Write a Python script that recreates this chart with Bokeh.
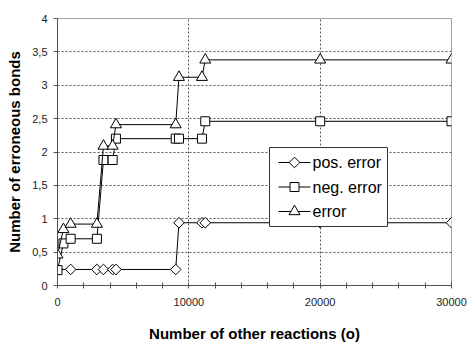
from bokeh.plotting import figure
from bokeh.models import FixedTicker, CustomJSTickFormatter, Range1d
from bokeh.core.properties import value
from bokeh.embed import file_html
from bokeh.resources import INLINE

# ---- data ----
x_pos = [0, 1000, 3000, 3500, 4200, 4450, 9000, 9250, 11000, 11250, 20000, 30000]
pos_error = [0.24, 0.24, 0.24, 0.24, 0.24, 0.24, 0.24, 0.94, 0.94, 0.94, 0.94, 0.94]
x_all = [0, 450, 1000, 3000, 3500, 4200, 4450, 9000, 9250, 11000, 11250, 20000, 30000]
neg_error = [0.23, 0.63, 0.70, 0.70, 1.88, 1.88, 2.20, 2.20, 2.20, 2.20, 2.46, 2.46, 2.46]
error = [0.46, 0.84, 0.92, 0.92, 2.09, 2.09, 2.41, 2.41, 3.12, 3.12, 3.38, 3.38, 3.38]
labels = ["pos. error", "neg. error", "error"]

x_ticks = [0, 10000, 20000, 30000]
x_minor = [2000, 4000, 6000, 8000, 12000, 14000, 16000, 18000, 22000, 24000, 26000, 28000]
x_grid = [10000, 20000]
y_ticks = [0, 0.5, 1, 1.5, 2, 2.5, 3, 3.5, 4]
y_grid = [0.5, 1, 1.5, 2, 2.5, 3, 3.5]

FONT = "Liberation Sans"
W, H = 468, 345
BL, BR, BT, BB = 57, 17, 18, 60
FW, FH = W - BL - BR, H - BT - BB

p = figure(width=W, height=H, output_backend="svg", toolbar_location=None,
           x_range=(0, 30000), y_range=(0, 4),
           min_border_left=BL, min_border_right=BR, min_border_top=BT, min_border_bottom=BB)

p.outline_line_color = "#a0a0a0"
p.outline_line_width = 1

# axes
for ax in (p.xaxis[0], p.yaxis[0]):
    ax.axis_line_color = "#505050"
    ax.major_tick_line_color = "#505050"
    ax.minor_tick_line_color = "#505050"
    ax.major_label_text_font = FONT
    ax.major_label_text_font_size = "11px"
    ax.major_label_text_color = "#222222"
    ax.axis_label_text_font = FONT
    ax.axis_label_text_font_size = "15px"
    ax.axis_label_text_font_style = "bold"
    ax.axis_label_text_color = "#000000"

p.xaxis.ticker = FixedTicker(ticks=x_ticks, minor_ticks=x_minor)
p.xaxis.major_tick_in = 3
p.xaxis.major_tick_out = 3
p.xaxis.minor_tick_in = 3
p.xaxis.minor_tick_out = 3
p.xaxis.major_label_standoff = 9
p.xaxis.axis_label = "Number of other reactions (o)"
p.xaxis.axis_label_standoff = 16

p.yaxis.ticker = FixedTicker(ticks=y_ticks, minor_ticks=[])
p.yaxis.major_tick_in = 0
p.yaxis.major_tick_out = 4
p.yaxis.minor_tick_in = 0
p.yaxis.minor_tick_out = 0
p.yaxis.major_label_standoff = 6
p.yaxis.formatter = CustomJSTickFormatter(code="return tick.toString().replace('.', ',');")
p.yaxis.axis_label = "Number of erroneous bonds"
p.yaxis.axis_label_standoff = 6

# grids
p.xgrid.ticker = FixedTicker(ticks=x_grid)
p.ygrid.ticker = FixedTicker(ticks=y_grid)
for g in (p.xgrid[0], p.ygrid[0]):
    g.grid_line_color = "#555555"
    g.grid_line_dash = "2 2"
    g.grid_line_width = 1

# series
DIAMOND = dict(marker="square", angle=0.785398, size=7.5)
SQUARE = dict(marker="square", size=9)
TRIANGLE = dict(marker="triangle", size=11)
MSTYLE = dict(fill_color="white", line_color="black", line_width=1)

p.line(x_pos, pos_error, line_color="black", line_width=1)
p.scatter(x_pos, pos_error, **DIAMOND, **MSTYLE)
p.line(x_all, neg_error, line_color="black", line_width=1)
p.scatter(x_all, neg_error, **SQUARE, **MSTYLE)
p.line(x_all, error, line_color="black", line_width=1)
p.scatter(x_all, error, **TRIANGLE, **MSTYLE)

# ---- legend box, drawn in frame pixel units (layout only) ----
p.extra_x_ranges = {"px": Range1d(0, FW)}
p.extra_y_ranges = {"px": Range1d(0, FH)}
PX = dict(x_range_name="px", y_range_name="px")
LEG_L, LEG_B, LEG_W, LEG_H = 212, 59, 118, 79
ROW, PAD_L, GW, GAP = 24.5, 9, 32, 2
row_y = [LEG_B + LEG_H / 2 + ROW * (1 - i) for i in range(3)]
gx0 = LEG_L + PAD_L
gxc = gx0 + GW / 2

p.quad(left=[LEG_L], right=[LEG_L + LEG_W], bottom=[LEG_B], top=[LEG_B + LEG_H],
       fill_color="white", line_color="#333333", line_width=1, **PX)
p.segment(x0=[gx0] * 3, y0=row_y, x1=[gx0 + GW] * 3, y1=row_y,
          line_color="black", line_width=1, **PX)
for i, mk in enumerate([DIAMOND, SQUARE, TRIANGLE]):
    p.scatter([gxc], [row_y[i]], **mk, **MSTYLE, **PX)
p.text(x=[gx0 + GW + GAP] * 3, y=row_y, text=labels, text_font=value(FONT),
       text_font_size="16px", text_color="black", text_baseline="middle",
       text_align="left", **PX)

open("out.html", "w").write(file_html(p, INLINE))
